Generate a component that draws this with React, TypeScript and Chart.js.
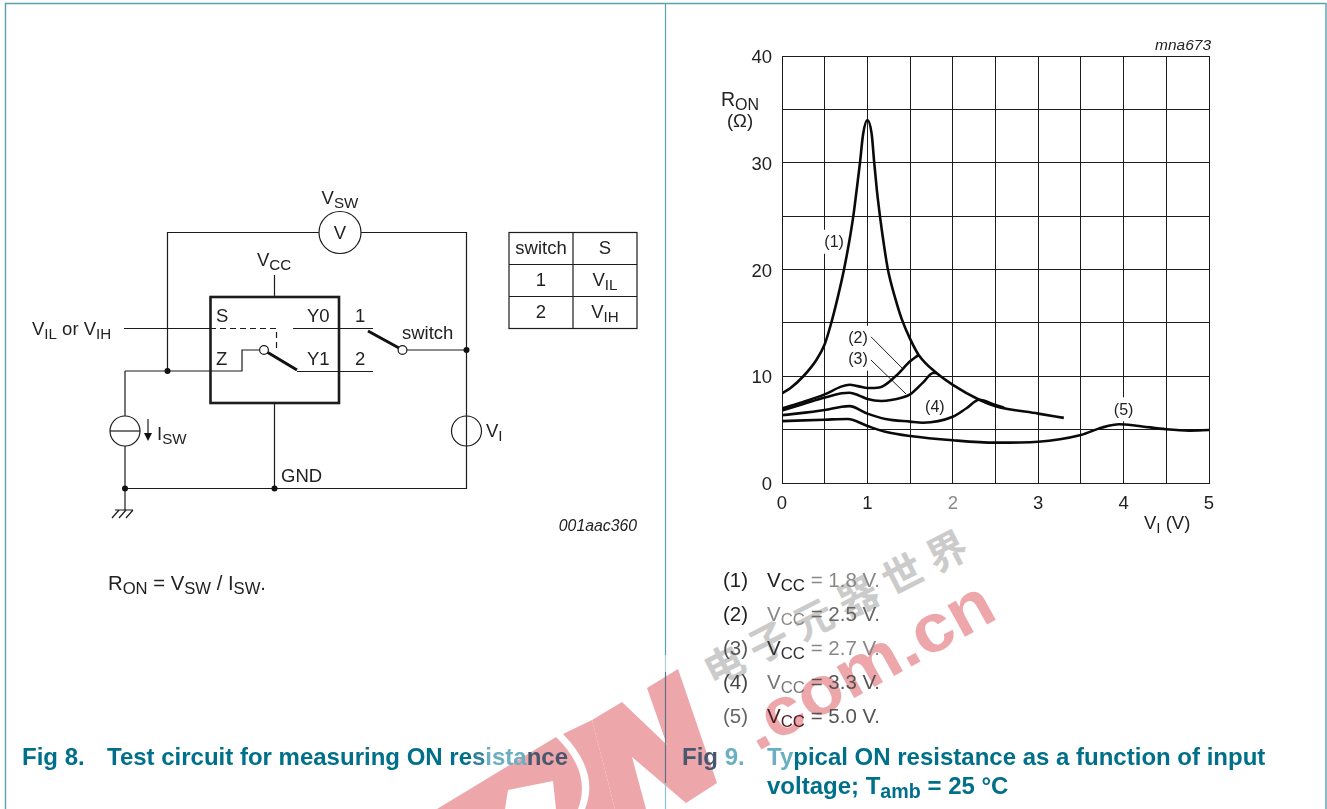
import React, { useEffect, useRef } from "react";
import { Chart, registerables } from "chart.js";

Chart.register(...registerables);

const xTickLabels = ["0", "1", "2", "3", "4", "5"];
const yTickLabels = ["0", "10", "20", "30", "40"];

const curve1V = [0, 0.1, 0.25, 0.4, 0.5, 0.57, 0.65, 0.726, 0.785, 0.835, 0.875, 0.913, 0.95, 1.0, 1.05, 1.08, 1.11, 1.147, 1.19, 1.24, 1.33, 1.4, 1.5, 1.6, 1.81, 2.0, 2.31, 2.5, 3.0, 3.3];
const curve1R = [8.4, 8.9, 10, 11.5, 13, 14.8, 17.3, 20, 22.5, 25, 27.5, 30, 32.7, 34, 32.7, 30, 27.5, 25, 22.5, 20, 17.2, 15.4, 13.5, 12, 10.3, 9.2, 7.8, 7.2, 6.5, 6.1];
const curve2V = [0, 0.25, 0.5, 0.7, 0.79, 0.9, 1.0, 1.14, 1.33, 1.5, 1.6];
const curve2R = [7.0, 7.6, 8.3, 9.05, 9.2, 9.05, 8.9, 8.95, 10, 11.4, 12];
const curve3V = [0, 0.25, 0.5, 0.7, 0.79, 0.9, 1.0, 1.16, 1.41, 1.5, 1.65, 1.77, 1.81];
const curve3R = [6.8, 7.4, 8.0, 8.4, 8.46, 8.2, 7.87, 7.68, 8.0, 8.3, 9.4, 10.3, 10.3];
const curve4V = [0, 0.5, 0.7, 0.79, 1.0, 1.21, 1.5, 1.65, 2.0, 2.16, 2.31, 2.5, 2.6];
const curve4R = [6.34, 6.84, 7.15, 7.2, 6.5, 6.0, 5.75, 5.65, 6.2, 7.0, 7.8, 7.3, 7.05];
const curve5V = [0, 0.5, 0.77, 1.0, 1.21, 1.5, 2.0, 2.5, 3.0, 3.5, 3.75, 3.95, 4.15, 4.5, 4.77, 5.0];
const curve5R = [5.8, 5.93, 6.0, 5.34, 4.8, 4.4, 4.0, 3.78, 3.87, 4.5, 5.2, 5.5, 5.37, 5.03, 4.9, 4.96];
const leader2V = [1.042, 1.417];
const leader2R = [13.7, 10.68];
const leader3V = [1.042, 1.452];
const leader3R = [11.52, 8.34];

const curveLabels = ["(1)", "(2)", "(3)", "(4)", "(5)"];
const curveLabelV = [0.61, 0.89, 0.89, 1.79, 4.0];
const curveLabelR = [22.6, 13.6, 11.65, 7.2, 6.9];

const FONT = '"Liberation Sans", Arial, sans-serif';
const TEAL = "#00708a";
const LINE = "#1c1c1c";

const pts = (xs: number[], ys: number[]) => xs.map((x, i) => ({ x, y: ys[i] }));

const curveLabelPlugin = {
  id: "curveLabels",
  beforeDatasetsDraw(chart: any) {
    const { ctx, scales } = chart;
    ctx.save();
    ctx.font = `16px ${FONT}`;
    ctx.textAlign = "center";
    ctx.textBaseline = "middle";
    curveLabels.forEach((label, i) => {
      const x = scales.x.getPixelForValue(curveLabelV[i]);
      const y = scales.y.getPixelForValue(curveLabelR[i]);
      ctx.fillStyle = "#fff";
      ctx.fillRect(x - 11, y - 12, 22, 24);
      ctx.fillStyle = "#222";
      ctx.fillText(label, x, y + 1);
    });
    ctx.restore();
  },
};

function T({ x, y, s, anchor = "start", size = 18.5, fill = "#222", italic = false, bold = false, subSize = 0.82, subDy = 4 }: any) {
  const pieces: any[] = [];
  const parts = s.split(/(_\{[^}]*\})/).filter((p: string) => p !== "");
  let pendingUp = false;
  parts.forEach((p: string, i: number) => {
    if (p.startsWith("_{")) {
      pieces.push(
        <tspan key={i} fontSize={size * subSize} dy={subDy}>
          {p.slice(2, -1)}
        </tspan>
      );
      pendingUp = true;
    } else {
      pieces.push(
        <tspan key={i} dy={pendingUp ? -subDy : 0}>
          {p}
        </tspan>
      );
      pendingUp = false;
    }
  });
  return (
    <text x={x} y={y} textAnchor={anchor} fontSize={size} fill={fill} fontFamily={FONT} fontStyle={italic ? "italic" : "normal"} fontWeight={bold ? 700 : 400} xmlSpace="preserve">
      {pieces}
    </text>
  );
}

const legendRows = [
  { tag: "(1)", tagFill: "#222", value: " = 1.8 V.", vFill: "#222", fill: "#888", y: 587 },
  { tag: "(2)", tagFill: "#222", value: " = 2.5 V.", vFill: "#888", fill: "#666", y: 621 },
  { tag: "(3)", tagFill: "#555", value: " = 2.7 V.", vFill: "#333", fill: "#888", y: 655 },
  { tag: "(4)", tagFill: "#444", value: " = 3.3 V.", vFill: "#777", fill: "#555", y: 689 },
  { tag: "(5)", tagFill: "#666", value: " = 5.0 V.", vFill: "#4a1a20", fill: "#555", y: 723 },
];

function Watermark() {
  const red = "#eda7ab";
  return (
    <svg width={1327} height={809} style={{ position: "absolute", left: 0, top: 0 }}>
      <path d="M437 809 L556 737 Q592 772 578 809 Z M505 809 L508 790 L553 781 L556 809 Z" fill={red} fillRule="evenodd" />
      <path d="M563 734 L592 720 L615 809 L585 809 Q600 772 563 734 Z" fill={red} />
      <path d="M592 720 L622 702 L667 745 L647 688 L678 669 L717 783 L686 803 L632 757 L646 809 L615 809 Z" fill={red} />
      <text transform="translate(757 752) rotate(-29) scale(1.08 1)" fontFamily={FONT} fontWeight={700} fontSize={68} fill={red}>.com.cn</text>
      <text transform="translate(713 687) rotate(-27)" fontFamily='"Noto Sans CJK SC"' fontWeight={700} fontSize={40} letterSpacing={10} fill="#cbcbcb">电子元器世界</text>
    </svg>
  );
}

function Circuit() {
  const s = { stroke: LINE, strokeWidth: 1.2, fill: "none" };
  const dot = (cx: number, cy: number) => <circle cx={cx} cy={cy} r={3} fill="#111" />;
  return (
    <g>
      <path {...s} d="M167.5 371 V232.5 H319 M361 232.5 H466.5 V488.5 H125 M125 371 H242 V350 H259.5 M297 371.5 H373 M124 328.5 H210 M293 328.5 H373 M407 350 H466.5 M274.5 275 V297 M274.5 403 V488.5 M125 371 V416 M125 446 V510 M115 510 H133 M119 510 L112 518 M126 510 L119 518 M133 510 L126 518" />
      <path {...s} strokeDasharray="6 4" d="M210 328.5 H276.5 V351" />
      <circle {...s} cx={340} cy={232.5} r={21} />
      <circle {...s} cx={125} cy={431} r={15} />
      <path {...s} d="M110 431 H140" />
      <circle {...s} cx={466.5} cy={431} r={15} />
      <rect x={210.5} y={297} width={128.5} height={106} fill="none" stroke={LINE} strokeWidth={2.6} />
      <path d="M267 352 L297 370 M368 331 L399 348" stroke="#111" strokeWidth={3} fill="none" />
      <circle cx={264} cy={350} r={4.4} fill="#fff" stroke={LINE} strokeWidth={1.2} />
      <circle cx={402.5} cy={350} r={4.4} fill="#fff" stroke={LINE} strokeWidth={1.2} />
      {dot(167.5, 371)}
      {dot(466.5, 350)}
      {dot(125, 488.5)}
      {dot(274.5, 488.5)}
      <path {...s} d="M148 419 V434" />
      <path d="M144 433 H152 L148 441 Z" fill="#111" />
      <rect x={509} y={232.5} width={128} height={96} fill="none" stroke={LINE} strokeWidth={1.2} />
      <path {...s} d="M509 264.5 H637 M509 296.5 H637 M573 232.5 V328.5" />
      <T x={340} y={204} s="V_{SW}" anchor="middle" />
      <T x={340} y={239} s="V" anchor="middle" />
      <T x={257} y={266} s="V_{CC}" />
      <T x={32} y={335} s="V_{IL} or V_{IH}" />
      <T x={216} y={322} s="S" />
      <T x={307} y={322} s="Y0" />
      <T x={216} y={365} s="Z" />
      <T x={307} y={365} s="Y1" />
      <T x={355} y={322} s="1" />
      <T x={355} y={365} s="2" />
      <T x={402} y={339} s="switch" />
      <T x={157} y={440} s="I_{SW}" />
      <T x={281} y={482} s="GND" />
      <T x={486} y={437} s="V_{I}" />
      <T x={541} y={254} s="switch" anchor="middle" />
      <T x={605} y={254} s="S" anchor="middle" />
      <T x={541} y={286} s="1" anchor="middle" />
      <T x={605} y={286} s="V_{IL}" anchor="middle" />
      <T x={541} y={318} s="2" anchor="middle" />
      <T x={605} y={318} s="V_{IH}" anchor="middle" />
      <T x={637} y={531} s="001aac360" anchor="end" size={15.8} italic />
      <T x={108} y={590} s="R_{ON} = V_{SW} / I_{SW}." size={20.3} />
    </g>
  );
}

function Overlay() {
  const lg = 20.5;
  return (
    <svg width={1327} height={809} style={{ position: "absolute", left: 0, top: 0 }}>
      <path d="M5.5 809 V3.5 H1326 V809" fill="none" stroke="#5b9fb3" strokeWidth={1.4} />
      <path d="M665.5 3 V655" stroke="#5b9fb3" strokeWidth={1.2} />
      <path d="M665.5 655 V672" stroke="#a8d0da" strokeWidth={1.2} />
      <path d="M665.5 672 V783" stroke="#5f6f84" strokeWidth={1.2} />
      <path d="M665.5 783 V809" stroke="#8cc3d0" strokeWidth={1.2} />
      <Circuit />
      <T x={1211} y={50} s="mna673" anchor="end" size={15.5} italic />
      <T x={721} y={106} s="R_{ON}" size={19.5} />
      <T x={740} y={127} s="(Ω)" anchor="middle" />
      <T x={1144} y={529} s="V_{I} (V)" />
      {legendRows.map((r) => (
        <g key={r.tag}>
          <T x={723} y={r.y} s={r.tag} fill={r.tagFill} size={lg} />
          <text x={767} y={r.y} fontFamily={FONT} fontSize={lg} xmlSpace="preserve">
            <tspan fill={r.vFill}>V</tspan>
            <tspan fill={r.vFill} fontSize={lg * 0.82} dy={4}>CC</tspan>
            <tspan fill={r.fill} dy={-4}>{r.value}</tspan>
          </text>
        </g>
      ))}
      <T x={22} y={765} s="Fig 8." size={24} fill={TEAL} bold />
      <text x={107} y={765} fontFamily={FONT} fontWeight={700} fontSize={24} fill={TEAL}>
        Test circuit for measuring ON re<tspan fill="#2f8098">s</tspan><tspan fill="#6ab0c2">ista</tspan><tspan fill="#48566e">nce</tspan>
      </text>
      <text x={682} y={765} fontFamily={FONT} fontWeight={700} fontSize={24}>
        <tspan fill="#48566e">Fig</tspan><tspan fill="#6ab0c2"> 9.</tspan>
      </text>
      <text x={767} y={765} fontFamily={FONT} fontWeight={700} fontSize={24} fill={TEAL}>
        <tspan fill="#6ab0c2">Ty</tspan>pical ON resistance as a function of input
      </text>
      <T x={767} y={794} s="voltage; T_{amb} = 25 °C" size={24} fill={TEAL} bold />
    </svg>
  );
}

export default function App() {
  const ref = useRef<HTMLCanvasElement | null>(null);
  useEffect(() => {
    const canvas = ref.current!;
    const thick = { showLine: true, pointRadius: 0, borderColor: "#0a0a0a", borderWidth: 2.6, cubicInterpolationMode: "monotone", fill: false };
    const thin = { showLine: true, pointRadius: 0, borderColor: "#222", borderWidth: 1, fill: false };
    const chart = new Chart(canvas, {
      type: "scatter",
      data: {
        datasets: [
          { label: "VCC = 1.8 V", data: pts(curve1V, curve1R), ...thick },
          { label: "VCC = 2.5 V", data: pts(curve2V, curve2R), ...thick },
          { label: "VCC = 2.7 V", data: pts(curve3V, curve3R), ...thick },
          { label: "VCC = 3.3 V", data: pts(curve4V, curve4R), ...thick },
          { label: "VCC = 5.0 V", data: pts(curve5V, curve5R), ...thick },
          { label: "leader 2", data: pts(leader2V, leader2R), ...thin },
          { label: "leader 3", data: pts(leader3V, leader3R), ...thin },
        ],
      } as any,
      options: {
        animation: false,
        responsive: false,
        devicePixelRatio: 1,
        layout: { padding: { left: 732, right: 118, top: 56, bottom: 276 } },
        plugins: { legend: { display: false }, tooltip: { enabled: false } },
        scales: {
          x: {
            type: "linear",
            min: 0,
            max: 5,
            afterFit: (s: any) => { s.height = 50; },
            ticks: {
              stepSize: 0.5,
              autoSkip: false,
              maxRotation: 0,
              padding: 10,
              font: { size: 18.5, family: FONT },
              color: (c: any) => (c.tick && c.tick.value === 2 ? "#888" : "#222"),
              callback: (v: any) => (xTickLabels.includes(String(v)) ? String(v) : ""),
            },
            grid: { color: LINE, lineWidth: 1, drawTicks: false },
            border: { color: LINE, width: 1 },
          },
          y: {
            type: "linear",
            min: 0,
            max: 40,
            afterFit: (s: any) => { s.width = 50; },
            ticks: {
              stepSize: 5,
              autoSkip: false,
              padding: 10,
              labelOffset: 2,
              font: { size: 18.5, family: FONT },
              color: "#222",
              callback: (v: any) => (yTickLabels.includes(String(v)) ? String(v) : ""),
            },
            grid: { color: LINE, lineWidth: 1, drawTicks: false },
            border: { color: LINE, width: 1 },
          },
        },
      } as any,
      plugins: [curveLabelPlugin],
    } as any);
    return () => chart.destroy();
  }, []);
  return (
    <div style={{ position: "absolute", left: 0, top: 0, width: 1327, height: 809, overflow: "hidden", background: "#fff" }}>
      <Watermark />
      <canvas ref={ref} width={1327} height={809} style={{ position: "absolute", left: 0, top: 0, display: "block" }} />
      <Overlay />
    </div>
  );
}
